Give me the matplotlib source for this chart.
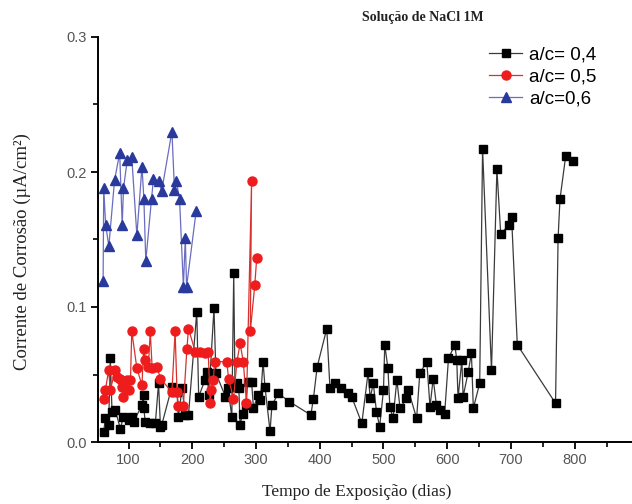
import matplotlib
matplotlib.use("Agg")
import matplotlib.pyplot as plt  # noqa: E402
from matplotlib.ticker import MultipleLocator  # noqa: E402

# corrosion current vs exposure time, one series per water/cement ratio
dias_04 = [61, 63.5, 68.7, 71.3, 74, 79, 87, 92, 100, 105, 108, 121, 123.5, 124, 126,
           134, 142, 147, 150, 152, 168, 176, 178, 184, 189, 194, 207, 210, 220, 223,
           226, 234, 237, 252, 256, 262, 265, 267, 270, 273, 275, 279, 284, 287, 293,
           296, 303, 307, 311, 314, 322, 325, 335, 352, 386, 390, 396, 411, 416, 424,
           434, 445, 450, 466, 476, 479, 484, 489, 494, 500, 502, 507, 510, 515, 521,
           526, 536, 539, 552, 557, 568, 573, 578, 583, 588, 596, 602, 612, 615, 617,
           623, 625, 633, 638, 641, 651, 655.5, 669.5, 678, 684, 697, 701, 710, 770,
           774, 777, 786, 797]
icorr_04 = [0.0076, 0.0175, 0.0126, 0.062, 0.0225, 0.0237, 0.010, 0.0187, 0.0163, 0.0187,
            0.015, 0.0274, 0.0348, 0.025, 0.015, 0.0138, 0.0138, 0.0435, 0.0113, 0.0126,
            0.041, 0.037, 0.0187, 0.0397, 0.020, 0.020, 0.0965, 0.0336, 0.046, 0.052,
            0.0348, 0.099, 0.051, 0.0336, 0.040, 0.0187, 0.125, 0.041, 0.0435, 0.040,
            0.0126, 0.021, 0.0274, 0.0447, 0.0447, 0.025, 0.0348, 0.031, 0.0595, 0.041,
            0.008, 0.0274, 0.036, 0.030, 0.020, 0.032, 0.0558, 0.084, 0.040, 0.044,
            0.040, 0.036, 0.0336, 0.0138, 0.052, 0.0324, 0.0435, 0.0225, 0.0113, 0.0385,
            0.072, 0.0546, 0.026, 0.0175, 0.046, 0.025, 0.0324, 0.0385, 0.0175, 0.051,
            0.0595, 0.026, 0.047, 0.0274, 0.0237, 0.021, 0.062, 0.072, 0.0607, 0.0324,
            0.0607, 0.0336, 0.052, 0.0657, 0.025, 0.0435, 0.217, 0.053, 0.202, 0.154,
            0.161, 0.167, 0.072, 0.0287, 0.151, 0.180, 0.212, 0.208]

dias_05 = [61, 63.5, 68.7, 71.3, 79, 82, 87, 90, 92, 97.5, 100, 103, 105, 113, 121, 123.5,
           126, 131, 134, 137, 144.5, 150, 168, 173, 176, 178, 186, 191.5, 194, 204.5,
           212, 220, 225, 228, 230, 233, 235, 254, 257, 264.6, 270, 275, 280, 285, 293,
           291, 298, 301]
icorr_05 = [0.032, 0.0385, 0.053, 0.0385, 0.053, 0.048, 0.047, 0.041, 0.0336, 0.046,
            0.0385, 0.046, 0.082, 0.0546, 0.042, 0.069, 0.061, 0.0558, 0.082, 0.0546,
            0.0558, 0.047, 0.037, 0.082, 0.037, 0.027, 0.027, 0.069, 0.084, 0.067,
            0.067, 0.066, 0.067, 0.0287, 0.0385, 0.046, 0.0595, 0.0595, 0.047, 0.032,
            0.0595, 0.073, 0.0595, 0.029, 0.193, 0.082, 0.116, 0.136]

dias_06 = [60, 61, 64, 69, 78, 86, 90, 92, 98, 105, 113, 121, 124, 127, 136, 139, 147,
           152, 168, 172, 175, 180, 186, 189, 191, 206]
icorr_06 = [0.119, 0.188, 0.161, 0.145, 0.194, 0.214, 0.161, 0.188, 0.209, 0.211, 0.153,
            0.204, 0.180, 0.134, 0.180, 0.195, 0.193, 0.186, 0.230, 0.187, 0.193, 0.180,
            0.115, 0.151, 0.115, 0.171]

labels = ["a/c= 0,4", "a/c= 0,5", "a/c=0,6"]

W, H = 632, 504
fig = plt.figure(figsize=(W / 100, H / 100), dpi=100)
ax = fig.add_axes([98 / W, 1 - 442 / H, (W - 98) / W, (442 - 37) / H])

ax.plot(dias_04, icorr_04, color="#3a3a3a", lw=0.9, marker="s", ms=6,
        mfc="black", mec="black", label=labels[0])
ax.plot(dias_05, icorr_05, color="#d8302c", lw=0.9, marker="o", ms=6.5,
        mfc="#ee1c1c", mec="#ee1c1c", label=labels[1])
ax.plot(dias_06, icorr_06, color="#6a6cc0", lw=0.9, marker="^", ms=7,
        mfc="#2a3a9c", mec="#2a3a9c", label=labels[2])

ax.set_xlim(52, 890)
ax.set_ylim(0, 0.3)
ax.xaxis.set_major_locator(MultipleLocator(100))
ax.xaxis.set_minor_locator(MultipleLocator(50))
ax.yaxis.set_major_locator(MultipleLocator(0.1))
ax.yaxis.set_minor_locator(MultipleLocator(0.05))
ax.set_xticks([100, 200, 300, 400, 500, 600, 700, 800])
ax.set_yticks([0.0, 0.1, 0.2, 0.3])
ax.set_yticklabels(["0.0", "0.1", "0.2", "0.3"])

for s in ("top", "right"):
    ax.spines[s].set_visible(False)
for s in ("left", "bottom"):
    ax.spines[s].set_linewidth(1.4)
ax.tick_params(which="major", direction="out", length=5, width=1.3,
               labelsize=10.5, labelcolor="#555555", pad=3)
ax.tick_params(which="minor", direction="out", length=3.5, width=1.2)
for t in ax.get_xticklabels() + ax.get_yticklabels():
    t.set_family("Liberation Sans")

fig.text(357 / W, 1 - 492 / H, "Tempo de Exposição (dias)", ha="center", va="center",
         family="Liberation Serif", fontsize=12.5, color="#222222")
fig.text(22 / W, 1 - 252 / H, "Corrente de Corrosão (µA/cm²)", ha="center", va="center",
         rotation=90, family="Liberation Serif", fontsize=13.5, color="#222222")
fig.text(423 / W, 1 - 18 / H, "Solução de NaCl 1M", ha="center", va="center",
         family="Liberation Serif", fontsize=10, fontweight="bold", color="#222222")

ax.legend(loc="upper left", bbox_to_anchor=(480 / W, 1 - 37 / H), bbox_transform=fig.transFigure,
          frameon=False, handlelength=1.75, handletextpad=0.35, labelspacing=0.25,
          borderpad=0, prop={"family": "Liberation Sans", "size": 13.5})

fig.savefig("out.png", dpi=100)
